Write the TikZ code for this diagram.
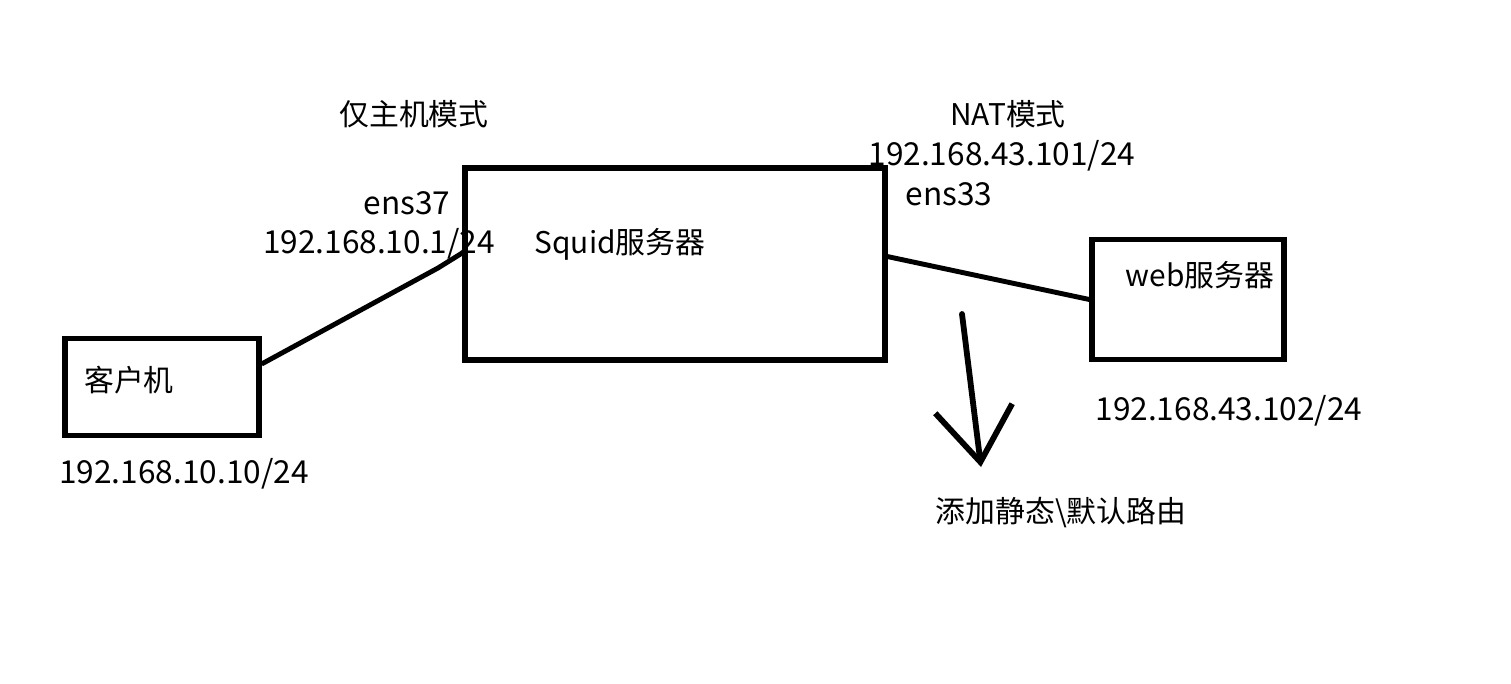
\documentclass[tikz,border=0pt]{standalone}
\usepackage{fontspec}
\setmainfont{Noto Sans CJK SC}
\usetikzlibrary{arrows.meta, positioning}

\begin{document}
\begin{tikzpicture}[
  x=0.02cm, y=-0.02cm,
  hostbox/.style={rectangle, draw=black, line width=3.3pt, inner sep=0pt},
  link/.style={line width=2.8pt, black, line join=round},
  txt/.style={inner sep=0pt, font=\fontsize{17}{20}\selectfont},
  addr/.style={inner sep=0pt, font=\fontsize{18}{21}\selectfont},
  routearr/.style={-{Straight Barb[length=1.08cm, width=1.55cm]},
    line width=3.3pt, line cap=round, line join=round}
]
  \useasboundingbox (0,0) rectangle (1511,683);

  % hosts
  \node[hostbox, minimum width=3.87cm, minimum height=1.94cm] (client) at (162,387) {};
  \node[hostbox, minimum width=8.39cm, minimum height=3.85cm] (squid) at (675,264) {};
  \node[hostbox, minimum width=3.83cm, minimum height=2.40cm] (web) at (1188,299.5) {};

  \node[txt] (clientname) at (129,380) {客户机};
  \node[txt] (squidname) at (620,244) {Squid服务器};
  \node[txt] (webname) at (1200,275) {web服务器};

  % addresses
  \node[txt] (hostonly) at (414,114) {仅主机模式};
  \node[addr] (ens37) at (407,203) {ens37};
  \node[addr] (squidin) at (379,244) {192.168.10.1/24};
  \node[txt] (nat) at (1008,114) {NAT模式};
  \node[addr] (squidout) at (1002,156) {192.168.43.101/24};
  \node[addr] (ens33) at (949,194) {ens33};
  \node[addr] (clientip) at (184,474) {192.168.10.10/24};
  \node[addr] (webip) at (1229,411) {192.168.43.102/24};
  \node[txt] (route) at (1061,513) {添加静态\textbackslash 默认路由};

  \coordinate (bend) at (438,268);
  \coordinate (arrtop) at (962,314);
  \coordinate (arrtip) at (981,467);

  \draw[link] (client.13) -- (bend) -- (squid.177);
  \draw[link] (squid.2) -- (web.west);
  \draw[routearr] (arrtop) -- (arrtip);
\end{tikzpicture}
\end{document}
